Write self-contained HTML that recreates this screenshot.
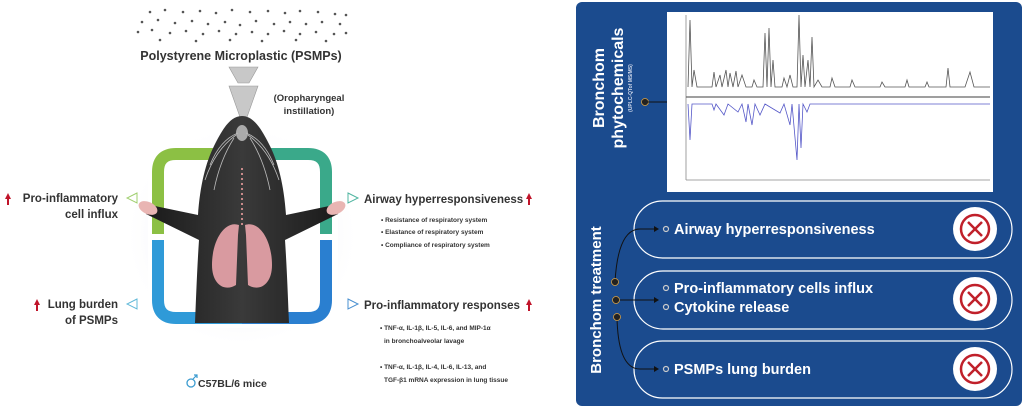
<!DOCTYPE html>
<html><head><meta charset="utf-8"><style>
html,body{margin:0;padding:0;background:#fff;width:1024px;height:410px;overflow:hidden}
svg{display:block}
text{font-family:"Liberation Sans",sans-serif;font-weight:bold}
</style></head><body>
<svg width="1024" height="410" viewBox="0 0 1024 410" xmlns="http://www.w3.org/2000/svg">
<defs>
<radialGradient id="glow" cx="0.5" cy="0.5" r="0.5"><stop offset="0.55" stop-color="#eeeef7"/><stop offset="1" stop-color="#fff" stop-opacity="0"/></radialGradient>
<linearGradient id="body" x1="0" x2="1"><stop offset="0" stop-color="#1a1a1a"/><stop offset="0.5" stop-color="#3a3a3a"/><stop offset="1" stop-color="#1a1a1a"/></linearGradient>
</defs>
<!-- particles -->
<g fill="#555">
<circle cx="150" cy="12" r="1.3"/><circle cx="165" cy="10" r="1.3"/><circle cx="183" cy="12" r="1.3"/><circle cx="200" cy="11" r="1.3"/><circle cx="216" cy="13" r="1.3"/><circle cx="232" cy="10" r="1.3"/><circle cx="250" cy="12" r="1.3"/><circle cx="268" cy="11" r="1.3"/><circle cx="285" cy="13" r="1.3"/><circle cx="300" cy="11" r="1.3"/><circle cx="318" cy="12" r="1.3"/><circle cx="335" cy="14" r="1.3"/><circle cx="346" cy="15" r="1.3"/>
<circle cx="142" cy="22" r="1.3"/><circle cx="158" cy="20" r="1.3"/><circle cx="175" cy="23" r="1.3"/><circle cx="192" cy="21" r="1.3"/><circle cx="208" cy="24" r="1.3"/><circle cx="225" cy="22" r="1.3"/><circle cx="240" cy="25" r="1.3"/><circle cx="256" cy="21" r="1.3"/><circle cx="274" cy="24" r="1.3"/><circle cx="290" cy="22" r="1.3"/><circle cx="306" cy="24" r="1.3"/><circle cx="322" cy="22" r="1.3"/><circle cx="340" cy="24" r="1.3"/>
<circle cx="138" cy="32" r="1.3"/><circle cx="152" cy="30" r="1.3"/><circle cx="170" cy="33" r="1.3"/><circle cx="186" cy="31" r="1.3"/><circle cx="203" cy="34" r="1.3"/><circle cx="219" cy="31" r="1.3"/><circle cx="236" cy="34" r="1.3"/><circle cx="252" cy="32" r="1.3"/><circle cx="268" cy="34" r="1.3"/><circle cx="284" cy="31" r="1.3"/><circle cx="300" cy="34" r="1.3"/><circle cx="316" cy="32" r="1.3"/><circle cx="334" cy="34" r="1.3"/><circle cx="346" cy="33" r="1.3"/>
<circle cx="160" cy="40" r="1.3"/><circle cx="196" cy="41" r="1.3"/><circle cx="230" cy="40" r="1.3"/><circle cx="262" cy="41" r="1.3"/><circle cx="296" cy="40" r="1.3"/><circle cx="326" cy="41" r="1.3"/>
</g>
<text x="241" y="60" font-size="12.5" fill="#333" text-anchor="middle">Polystyrene Microplastic (PSMPs)</text>
<!-- funnel -->
<polygon points="229,67 258,67 249,83 238,83" fill="#c8c8c8" stroke="#999" stroke-width="0.6"/>
<polygon points="229,86 258,86 246,120 241,120" fill="#c8c8c8" stroke="#999" stroke-width="0.6"/>
<text x="309" y="101" font-size="9.5" fill="#333" text-anchor="middle">(Oropharyngeal</text>
<text x="309" y="114" font-size="9.5" fill="#333" text-anchor="middle">instillation)</text>
<!-- glow -->
<ellipse cx="242" cy="236" rx="118" ry="112" fill="url(#glow)"/>
<!-- frame -->
<rect x="148" y="144" width="190" height="184" rx="22" fill="#fff"/>
<path d="M158 234 V172 Q158 154 176 154 H242" fill="none" stroke="#8cc044" stroke-width="12"/>
<path d="M242 154 H308 Q326 154 326 172 V234" fill="none" stroke="#3aa98a" stroke-width="12"/>
<path d="M158 240 V300 Q158 318 176 318 H242" fill="none" stroke="#2f9ad8" stroke-width="12"/>
<path d="M242 318 H308 Q326 318 326 300 V240" fill="none" stroke="#2a7fd0" stroke-width="12"/>
<!-- mouse -->
<path d="M242 116 C230 116 222 130 214 146 C206 162 200 185 198 215 L150 205 L146 214 L199 240 C197 270 196 300 195 323 H289 C288 300 287 270 285 240 L338 214 L334 205 L286 215 C284 185 278 162 270 146 C262 130 254 116 242 116 Z" fill="url(#body)"/>
<ellipse cx="148" cy="208" rx="10" ry="6" fill="#e9b5b3" transform="rotate(25 148 208)"/>
<ellipse cx="336" cy="208" rx="10" ry="6" fill="#e9b5b3" transform="rotate(-25 336 208)"/>
<ellipse cx="242" cy="133" rx="6" ry="8" fill="#aaa"/>
<g stroke="#bbb" stroke-width="0.8" fill="none">
<path d="M236 135 Q215 150 205 180"/><path d="M234 138 Q220 160 214 190"/><path d="M238 133 Q220 140 210 165"/>
<path d="M248 135 Q269 150 279 180"/><path d="M250 138 Q264 160 270 190"/><path d="M246 133 Q264 140 274 165"/>
</g>
<line x1="242" y1="168" x2="242" y2="225" stroke="#c98a8a" stroke-width="2" stroke-dasharray="2 3"/>
<path d="M239 225 C225 220 212 240 212 265 C212 285 225 292 236 285 L238 235 Z" fill="#d99aa0"/>
<path d="M245 225 C259 220 272 240 272 265 C272 285 259 292 248 285 L246 235 Z" fill="#d99aa0"/>
<!-- left labels -->
<g fill="#333" font-size="11.5" text-anchor="end">
<text x="118" y="202">Pro-inflammatory</text><text x="118" y="218">cell influx</text>
<text x="118" y="308">Lung burden</text><text x="118" y="324">of PSMPs</text>
</g>
<g fill="#c0142a"><path d="M5 199 L8 193 L11 199 H9 V205 H7 V199 Z"/><path d="M34 305 L37 299 L40 305 H38 V311 H36 V305 Z"/>
<path d="M526 199 L529 193 L532 199 H530 V205 H528 V199 Z"/><path d="M526 305 L529 299 L532 305 H530 V311 H528 V305 Z"/></g>
<polygon points="137,193 127,198 137,203" fill="none" stroke="#9fcf6e" stroke-width="1"/>
<polygon points="137,299 127,304 137,309" fill="none" stroke="#5fb8d8" stroke-width="1"/>
<polygon points="348,193 358,198 348,203" fill="none" stroke="#4fb5a0" stroke-width="1"/>
<polygon points="348,299 358,304 348,309" fill="none" stroke="#4a90d0" stroke-width="1"/>
<!-- right labels -->
<g fill="#333">
<text x="364" y="203" font-size="11.5">Airway hyperresponsiveness</text>
<text x="364" y="309" font-size="11.5">Pro-inflammatory responses</text>
<g font-size="6.5">
<text x="381" y="222">• Resistance of respiratory system</text>
<text x="381" y="234">• Elastance of respiratory system</text>
<text x="381" y="247">• Compliance of respiratory system</text>
<text x="380" y="330">• TNF-α, IL-1β, IL-5, IL-6, and MIP-1α</text>
<text x="384" y="343">in bronchoalveolar lavage</text>
<text x="380" y="369">• TNF-α, IL-1β, IL-4, IL-6, IL-13, and</text>
<text x="384" y="382">TGF-β1 mRNA expression in lung tissue</text>
</g>
<text x="198" y="387" font-size="10.5">C57BL/6 mice</text>
</g>
<circle cx="191" cy="383" r="4" fill="none" stroke="#3a9bd0" stroke-width="1.3"/>
<path d="M193 379 L197 375 M194 375 H197 V378" stroke="#3a9bd0" stroke-width="1.2" fill="none"/>

<!-- right panel -->
<rect x="576" y="2" width="446" height="404" rx="6" fill="#1b4b8e"/>
<rect x="667" y="12" width="326" height="180" fill="#fff"/>
<g transform="translate(604 88) rotate(-90)"><text x="0" y="0" font-size="16" fill="#fff" text-anchor="middle">Bronchom</text><text x="0" y="19" font-size="16" fill="#fff" text-anchor="middle">phytochemicals</text></g>
<text transform="translate(632 88) rotate(-90)" font-size="5" fill="#cfd8ea" text-anchor="middle" font-weight="normal">(UPLC-QTof MS/MS)</text>
<circle cx="645" cy="102" r="3.5" fill="#222" stroke="#d9a040" stroke-width="0.8"/>
<line x1="648" y1="102" x2="667" y2="102" stroke="#111" stroke-width="1"/>
<!-- chart -->
<g fill="none" stroke-width="0.8">
<line x1="686" y1="15" x2="686" y2="180" stroke="#888"/>
<line x1="686" y1="180" x2="990" y2="180" stroke="#888"/>
<line x1="686" y1="97" x2="990" y2="97" stroke="#666" stroke-width="1.2"/>
<path stroke="#555" d="M688 87 L690 20 L692 87 L694 70 L697 87 H712 L714 72 L716 87 L720 75 L722 87 L726 70 L728 87 L730 73 L733 87 L736 71 L738 87 L742 75 L746 87 H752 L754 80 L757 87 H763 L765 33 L767 87 L769 28 L771 87 L773 60 L775 87 H782 L784 78 L787 87 L790 75 L793 87 H797 L799 15 L801 87 L803 55 L805 87 L808 60 L810 87 L812 37 L814 87 L818 80 L822 87 H830 L832 78 L835 87 H850 L852 80 L855 87 H880 L882 82 L885 87 H905 L907 80 L909 87 H925 L927 82 L929 87 H946 L948 68 L950 87 H965 L970 72 L974 87 H990"/>
<path stroke="#5558c8" d="M688 104 L690 140 L692 104 H712 L714 110 L716 104 L724 115 L728 104 L738 112 L742 104 L746 122 L748 104 L752 125 L755 104 L760 115 L765 104 L780 113 L784 104 L790 125 L792 104 L797 160 L799 104 L801 148 L803 104 L807 112 L810 104 H990"/>
</g>
<!-- treatment -->
<text transform="translate(601 300) rotate(-90)" font-size="15" fill="#fff" text-anchor="middle">Bronchom  treatment</text>
<g fill="none" stroke="#fff" stroke-width="1.2">
<rect x="634" y="201" width="378" height="57" rx="28.5"/>
<rect x="634" y="271" width="378" height="58" rx="29"/>
<rect x="634" y="341" width="378" height="57" rx="28.5"/>
</g>
<g fill="none" stroke="#111" stroke-width="1">
<path d="M615 282 Q618 229 640 229 H654"/>
<path d="M618 300 H654"/>
<path d="M617 317 Q618 369 640 369 H654"/>
</g>
<g fill="#111"><polygon points="654,226 659,229 654,232"/><polygon points="654,297 659,300 654,303"/><polygon points="654,366 659,369 654,372"/></g>
<g fill="#222" stroke="#d9a040" stroke-width="0.8"><circle cx="615" cy="282" r="3.5"/><circle cx="616" cy="300" r="3.5"/><circle cx="617" cy="317" r="3.5"/></g>
<g fill="none" stroke="#ccc" stroke-width="1.2"><circle cx="666" cy="229" r="2.5"/><circle cx="666" cy="288" r="2.5"/><circle cx="666" cy="307" r="2.5"/><circle cx="666" cy="369" r="2.5"/></g>
<g fill="#fff" font-size="14.5">
<text x="674" y="234">Airway hyperresponsiveness</text>
<text x="674" y="293">Pro-inflammatory cells influx</text>
<text x="674" y="312">Cytokine release</text>
<text x="674" y="374">PSMPs lung burden</text>
</g>
<g>
<circle cx="975" cy="229" r="22" fill="#fff"/><circle cx="975" cy="299" r="22" fill="#fff"/><circle cx="975" cy="369" r="22" fill="#fff"/>
<g fill="none" stroke="#c0202a" stroke-width="2.5">
<circle cx="975" cy="229" r="14"/><circle cx="975" cy="299" r="14"/><circle cx="975" cy="369" r="14"/>
<path d="M968 222 L982 236 M982 222 L968 236"/><path d="M968 292 L982 306 M982 292 L968 306"/><path d="M968 362 L982 376 M982 362 L968 376"/>
</g></g>
</svg>
</body></html>
